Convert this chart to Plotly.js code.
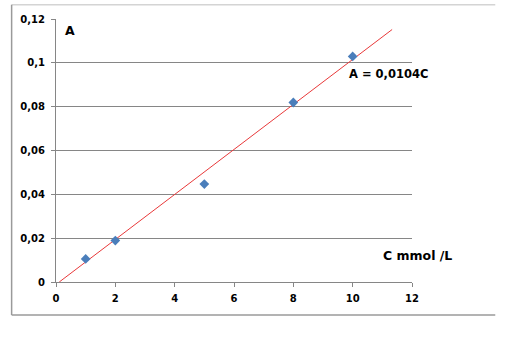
<!DOCTYPE html>
<html>
<head>
<meta charset="utf-8">
<script src="https://cdn.plot.ly/plotly-3.0.1.min.js"></script>
<style>html,body{margin:0;padding:0;background:#fff;}#chart{width:508px;height:349px;}</style>
</head>
<body>
<div id="chart"></div>
<script>
// Data
var concentration = [1, 2, 5, 8, 10];
var absorbance = [0.0105, 0.0189, 0.0447, 0.0819, 0.1029];
var trendX = [0.11, 11.33];
var trendY = [0.0, 0.1152];
var yTicks = [0, 0.02, 0.04, 0.06, 0.08, 0.1, 0.12];
var yTickLabels = ['0', '0,02', '0,04', '0,06', '0,08', '0,1', '0,12'];
var xTicks = [0, 2, 4, 6, 8, 10, 12];
var xTickLabels = ['0', '2', '4', '6', '8', '10', '12'];
var equationText = 'A = 0,0104C';
var yLabel = 'A';
var xLabel = 'C mmol /L';

var tickFont = {family: 'DejaVu Sans', size: 10, color: '#000', weight: 'bold'};

var traces = [
  {x: trendX, y: trendY, mode: 'lines', type: 'scatter',
   line: {color: '#e8393a', width: 1}, hoverinfo: 'skip', showlegend: false},
  {x: concentration, y: absorbance, mode: 'markers', type: 'scatter',
   marker: {symbol: 'diamond', size: 7.5, color: '#4a7ebb'}, showlegend: false}
];

var layout = {
  width: 508, height: 349,
  margin: {l: 55.5, r: 95.5, t: 19.3, b: 67, pad: 0},
  paper_bgcolor: '#fff', plot_bgcolor: '#fff',
  showlegend: false,
  xaxis: {range: [0, 12], tickvals: xTicks, ticktext: xTickLabels,
    showgrid: false, zeroline: false, showline: true, linecolor: '#868686', linewidth: 1,
    ticks: 'outside', ticklen: 4, tickcolor: '#868686', tickfont: tickFont, ticklabelstandoff: 3},
  yaxis: {range: [0, 0.12], tickvals: yTicks, ticktext: yTickLabels,
    showgrid: true, gridcolor: '#868686', gridwidth: 1, zeroline: false,
    showline: true, linecolor: '#868686', linewidth: 1,
    ticks: 'outside', ticklen: 4, tickcolor: '#868686', tickfont: tickFont, ticklabelstandoff: 4},
  annotations: [
    {x: 0.22, y: 0.1146, xref: 'x', yref: 'y', text: yLabel, showarrow: false,
     xanchor: 'left', yanchor: 'middle', font: {family: 'DejaVu Sans', size: 12.5, color: '#000', weight: 'bold'}},
    {x: 9.8, y: 0.095, xref: 'x', yref: 'y', text: equationText, showarrow: false,
     xanchor: 'left', yanchor: 'middle', font: {family: 'DejaVu Sans', size: 11.5, color: '#000', weight: 'bold'}},
    {x: 10.94, y: 0.0123, xref: 'x', yref: 'y', text: xLabel, showarrow: false,
     xanchor: 'left', yanchor: 'middle', font: {family: 'DejaVu Sans', size: 12.5, color: '#000', weight: 'bold'}}
  ],
  shapes: [
    {type: 'line', xref: 'paper', yref: 'paper', x0: -44.5/357, x1: 440.5/357, y0: 1 + 14.3/262.7, y1: 1 + 14.3/262.7,
     line: {color: '#d4d4d4', width: 1.5}},
    {type: 'line', xref: 'paper', yref: 'paper', x0: -44.5/357, x1: -44.5/357, y0: 1 + 14.3/262.7, y1: -33/262.7,
     line: {color: '#9a9a9a', width: 1.5}},
    {type: 'line', xref: 'paper', yref: 'paper', x0: -44.5/357, x1: 440.5/357, y0: -33/262.7, y1: -33/262.7,
     line: {color: '#9a9a9a', width: 1.5}}
  ]
};

Plotly.newPlot('chart', traces, layout, {staticPlot: true, displayModeBar: false});
</script>
</body>
</html>
